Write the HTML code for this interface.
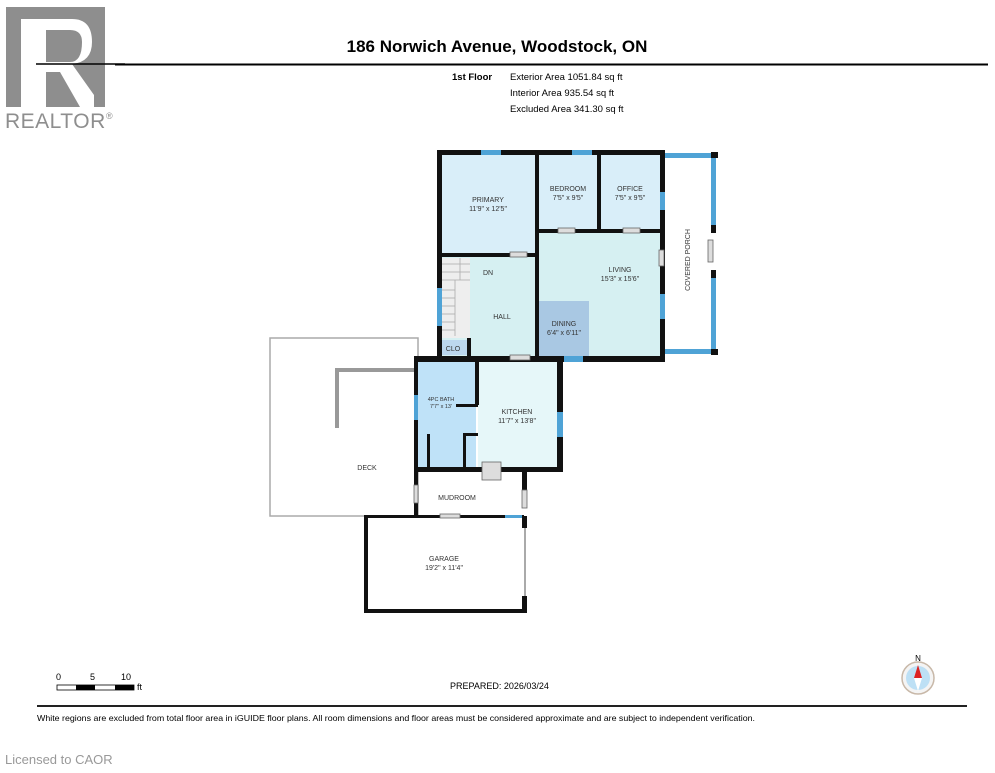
<!DOCTYPE html>
<html><head><meta charset="utf-8"><style>
body{margin:0;background:#fff;width:995px;height:768px;overflow:hidden;font-family:"Liberation Sans",sans-serif}
</style></head><body>
<svg width="995" height="768" viewBox="0 0 995 768" xmlns="http://www.w3.org/2000/svg" font-family="Liberation Sans, sans-serif">
<rect width="995" height="768" fill="#fff"/>
<!-- logo -->
<rect x="6" y="7" width="99" height="100" fill="#8e8e8e"/>
<rect x="21" y="19" width="25" height="88" fill="#fff"/>
<path d="M46 19 H72 Q92 19 92 42 Q92 62 72 64 L94 95 V107 H80 L60 72 H46 V62 H70 Q82 62 82 42 Q82 30 70 30 H46Z" fill="#fff"/>
<line x1="36" y1="64" x2="125" y2="64" stroke="#000" stroke-width="1.5"/>
<text x="5" y="128" font-size="21" fill="#8e8e8e" letter-spacing="0.5">REALTOR</text>
<text x="106" y="119" font-size="9" fill="#8e8e8e">®</text>
<!-- header -->
<text x="497" y="52" font-size="17" font-weight="bold" text-anchor="middle">186 Norwich Avenue, Woodstock, ON</text>
<line x1="115" y1="64.5" x2="988" y2="64.5" stroke="#000" stroke-width="2"/>
<g font-size="9.5">
<text x="452" y="80" font-weight="bold">1st Floor</text>
<text x="510" y="80">Exterior Area 1051.84 sq ft</text>
<text x="510" y="96">Interior Area 935.54 sq ft</text>
<text x="510" y="112">Excluded Area 341.30 sq ft</text>
</g>
<!-- deck -->
<rect x="270" y="338" width="148" height="178" fill="none" stroke="#aaa" stroke-width="1.5"/>
<path d="M414 370 H337 V428" fill="none" stroke="#999" stroke-width="4"/>
<!-- rooms fill -->
<rect x="441" y="154" width="96" height="101" fill="#d9eef9"/>
<rect x="539" y="154" width="59" height="77" fill="#d9eef9"/>
<rect x="600" y="154" width="61" height="77" fill="#d9eef9"/>
<rect x="539" y="233" width="122" height="124" fill="#d6f0f2"/>
<rect x="441" y="257" width="96" height="100" fill="#d6f0f2"/>
<rect x="539" y="301" width="50" height="56" fill="#a9c8e3"/>
<rect x="442" y="258" width="28" height="80" fill="#eee"/>
<g stroke="#aaa" stroke-width="0.8">
<line x1="442" y1="264" x2="470" y2="264"/><line x1="442" y1="272" x2="470" y2="272"/><line x1="442" y1="280" x2="470" y2="280"/>
<line x1="442" y1="290" x2="455" y2="290"/><line x1="442" y1="298" x2="455" y2="298"/><line x1="442" y1="306" x2="455" y2="306"/><line x1="442" y1="314" x2="455" y2="314"/><line x1="442" y1="322" x2="455" y2="322"/><line x1="442" y1="330" x2="455" y2="330"/>
<line x1="455" y1="280" x2="455" y2="336"/><line x1="460" y1="258" x2="460" y2="280"/>
</g>
<rect x="441" y="340" width="27" height="15" fill="#bcd7ee"/>
<rect x="418" y="362" width="58" height="105" fill="#bfe2f8"/>
<rect x="478" y="360" width="80" height="107" fill="#e6f7f9"/>
<rect x="455" y="362" width="23" height="42" fill="#bfe2f8"/>
<!-- walls -->
<g fill="#111">
<rect x="437" y="150" width="228" height="5"/>
<rect x="437" y="150" width="5" height="208"/>
<rect x="660" y="150" width="5" height="212"/>
<rect x="535" y="150" width="4" height="210"/>
<rect x="597" y="150" width="4" height="82"/>
<rect x="539" y="229" width="122" height="4"/>
<rect x="441" y="253" width="97" height="4"/>
<rect x="539" y="356" width="126" height="6"/>
<rect x="414" y="356" width="149" height="6"/>
<rect x="467" y="338" width="4" height="20"/>
<rect x="414" y="356" width="4" height="160"/>
<rect x="475" y="360" width="4" height="45"/>
<rect x="456" y="404" width="22" height="3"/>
<rect x="463" y="433" width="15" height="3"/>
<rect x="463" y="433" width="3" height="35"/>
<rect x="427" y="434" width="3" height="33"/>
<rect x="557" y="360" width="6" height="112"/>
<rect x="414" y="467" width="149" height="5"/>
<rect x="522" y="472" width="5" height="18"/>
<rect x="418" y="515" width="105" height="2"/>
<rect x="364" y="515" width="4" height="98"/>
<rect x="364" y="515" width="160" height="3"/>
<rect x="364" y="609" width="163" height="4"/>
<rect x="522" y="596" width="5" height="17"/>
<rect x="522" y="516" width="5" height="12"/>
<rect x="711" y="152" width="7" height="6"/><rect x="711" y="349" width="7" height="6"/>
<rect x="711" y="225" width="5" height="8"/><rect x="711" y="270" width="5" height="8"/>
</g>
<rect x="524" y="528" width="2" height="68" fill="#aaa"/>
<!-- windows -->
<g fill="#4fa3d6">
<rect x="481" y="150" width="20" height="5"/><rect x="572" y="150" width="20" height="5"/>
<rect x="665" y="153" width="46" height="5"/><rect x="665" y="349" width="46" height="5"/>
<rect x="711" y="158" width="5" height="67"/><rect x="711" y="278" width="5" height="71"/>
<rect x="660" y="192" width="5" height="18"/><rect x="660" y="294" width="5" height="25"/>
<rect x="437" y="288" width="5" height="38"/><rect x="564" y="356" width="19" height="6"/>
<rect x="414" y="395" width="4" height="25"/><rect x="557" y="412" width="6" height="25"/>
<rect x="505" y="515" width="17" height="3"/>
</g>
<!-- doors -->
<g fill="#ddd" stroke="#666" stroke-width="0.8">
<rect x="510" y="252" width="17" height="5"/><rect x="558" y="228" width="17" height="5"/><rect x="623" y="228" width="17" height="5"/>
<rect x="659" y="250" width="5" height="16"/><rect x="510" y="355" width="20" height="5"/>
<rect x="482" y="462" width="19" height="18"/><rect x="440" y="514" width="20" height="4"/>
<rect x="414" y="485" width="4" height="18"/><rect x="522" y="490" width="5" height="18"/>
<rect x="708" y="240" width="5" height="22"/>
</g>
<!-- labels -->
<g font-size="7" fill="#333" text-anchor="middle">
<text x="488" y="202">PRIMARY</text><text x="488" y="211">11'9" x 12'5"</text>
<text x="568" y="191">BEDROOM</text><text x="568" y="200">7'5" x 9'5"</text>
<text x="630" y="191">OFFICE</text><text x="630" y="200">7'5" x 9'5"</text>
<text x="620" y="272">LIVING</text><text x="620" y="281">15'3" x 15'6"</text>
<text x="502" y="319">HALL</text><text x="488" y="275">DN</text>
<text x="564" y="326">DINING</text><text x="564" y="335">6'4" x 6'11"</text>
<text x="453" y="351">CLO</text>
<text x="441" y="401" font-size="5.5">4PC BATH</text><text x="441" y="408" font-size="5.5">7'7" x 13'</text>
<text x="517" y="414">KITCHEN</text><text x="517" y="423">11'7" x 13'8"</text>
<text x="367" y="470">DECK</text><text x="457" y="500">MUDROOM</text>
<text x="444" y="561">GARAGE</text><text x="444" y="570">19'2" x 11'4"</text>
<text x="0" y="0" transform="translate(690,260) rotate(-90)" text-anchor="middle">COVERED PORCH</text>
</g>
<!-- footer -->
<g font-size="9">
<text x="56" y="680">0</text><text x="90" y="680">5</text><text x="121" y="680">10</text>
<rect x="57" y="685" width="77" height="5" fill="#fff" stroke="#000" stroke-width="0.8"/>
<rect x="76" y="685" width="19" height="5" fill="#000"/><rect x="115" y="685" width="19" height="5" fill="#000"/>
<text x="137" y="690">ft</text>
<text x="450" y="689">PREPARED: 2026/03/24</text>
</g>
<line x1="37" y1="706" x2="967" y2="706" stroke="#222" stroke-width="2"/>
<text x="37" y="721" font-size="8.5" textLength="718" lengthAdjust="spacingAndGlyphs">White regions are excluded from total floor area in iGUIDE floor plans. All room dimensions and floor areas must be considered approximate and are subject to independent verification.</text>
<text x="5" y="764" font-size="13" fill="#999">Licensed to CAOR</text>
<text x="918" y="661" font-size="8" text-anchor="middle">N</text>
<circle cx="918" cy="678" r="16" fill="#f4f4f4" stroke="#c8b8a8" stroke-width="1.5"/>
<circle cx="918" cy="678" r="12" fill="#bde0f5"/>
<path d="M918 665 L922 678 H914Z" fill="#d22"/>
<path d="M918 691 L922 678 H914Z" fill="#fff"/>
</svg>
</body></html>
